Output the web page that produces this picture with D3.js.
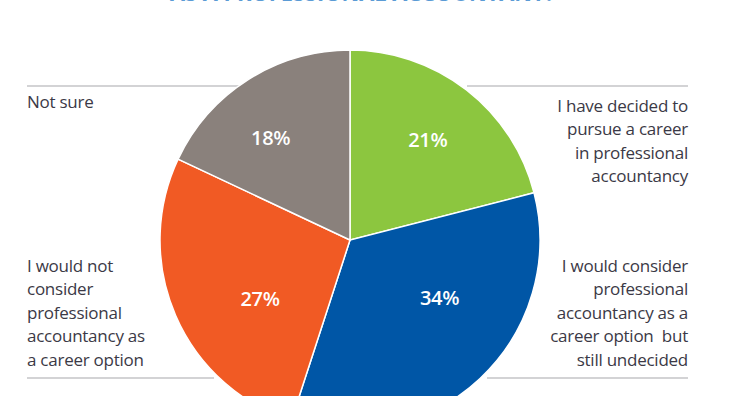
<!DOCTYPE html>
<html>
<head>
<meta charset="utf-8">
<script src="https://cdn.jsdelivr.net/npm/d3@7"></script>
<style>
  html, body { margin: 0; padding: 0; background: #fff; }
  svg { display: block; }
</style>
</head>
<body>
<svg id="chart" width="738" height="396"></svg>
<script>
// ---- data ----
const categories = [
  "I have decided to pursue a career in professional accountancy",
  "I would consider professional accountancy as a career option but still undecided",
  "I would not consider professional accountancy as a career option",
  "Not sure"
];
const values = [21, 34, 27, 18];
const valueLabels = ["21%", "34%", "27%", "18%"];
const colors = ["#8cc63f", "#0056a6", "#f15a24", "#8a817c"];
const labelLines = [
  ["I have decided to", "pursue a career", "in professional", "accountancy"],
  ["I would consider", "professional", "accountancy as a", "career option\u00a0\u00a0but", "still undecided"],
  ["I would not", "consider", "professional", "accountancy as", "a career option"],
  ["Not sure"]
];
const titleText = "AS A PROFESSIONAL ACCOUNTANT?";

// ---- layout ----
const svg = d3.select("#chart");
const cx = 350, cy = 240, R = 190;
const font = "'Open Sans', 'Noto Sans', sans-serif";

// title (cut off at the top)
svg.append("text")
  .attr("x", 170).attr("y", 1.3)
  .attr("textLength", 385).attr("lengthAdjust", "spacingAndGlyphs")
  .attr("font-family", font).attr("font-weight", 700).attr("font-size", 24)
  .attr("fill", "#5b9bd5")
  .text(titleText);

// guide lines
const rules = [
  {x1: 27, x2: 245, y: 86},
  {x1: 467, x2: 688, y: 86},
  {x1: 27, x2: 214, y: 378},
  {x1: 487, x2: 688, y: 378}
];
svg.selectAll("line.rule").data(rules).enter().append("line")
  .attr("class", "rule")
  .attr("x1", d => d.x1).attr("x2", d => d.x2)
  .attr("y1", d => d.y).attr("y2", d => d.y)
  .attr("stroke", "#a7a7ab").attr("stroke-width", 1.2);

// pie
const pie = d3.pie().sort(null).value(d => d);
const arcs = pie(values);
const arc = d3.arc().innerRadius(0).outerRadius(R);
const g = svg.append("g").attr("transform", `translate(${cx},${cy})`);
g.selectAll("path").data(arcs).enter().append("path")
  .attr("d", arc)
  .attr("fill", (d, i) => colors[i])
  .attr("stroke", "#fff").attr("stroke-width", 1.5);

// percentage labels: centroid-based with slight nudges toward the original placement
const labelArc = d3.arc().innerRadius(0).outerRadius(2 * 122);
const nudge = [[3, -4], [6, -31], [22, 10], [-14, 0]];
g.selectAll("text.pct").data(arcs).enter().append("text")
  .attr("class", "pct")
  .attr("x", (d, i) => labelArc.centroid(d)[0] + nudge[i][0])
  .attr("y", (d, i) => labelArc.centroid(d)[1] + nudge[i][1])
  .attr("text-anchor", "middle").attr("dominant-baseline", "central")
  .attr("font-family", font).attr("font-weight", 600).attr("font-size", 20)
  .attr("letter-spacing", -0.3)
  .attr("fill", "#fff")
  .text((d, i) => valueLabels[i]);

// category labels
const blocks = [
  {x: 688, y: 111.5, anchor: "end"},
  {x: 688, y: 271.5, anchor: "end"},
  {x: 27, y: 271.5, anchor: "start"},
  {x: 27, y: 108, anchor: "start"}
];
const lineH = 23.6;
blocks.forEach((b, i) => {
  const t = svg.append("text")
    .attr("font-family", font).attr("font-size", 17)
    .attr("fill", "#3b3946")
    .attr("text-anchor", b.anchor)
    .attr("letter-spacing", -0.25);
  labelLines[i].forEach((ln, j) => {
    t.append("tspan").attr("x", b.x).attr("y", b.y + j * lineH).text(ln);
  });
});
</script>
</body>
</html>
